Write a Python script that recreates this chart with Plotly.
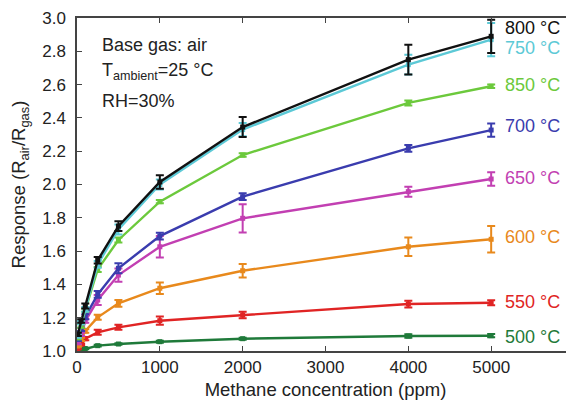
import plotly.graph_objects as go

conc_ppm = [10, 50, 100, 250, 500, 1000, 2000, 4000, 5000]

series_names = ["500 °C", "550 °C", "600 °C", "650 °C", "700 °C", "850 °C", "750 °C", "800 °C"]

resp_500 = [1.000, 1.005, 1.015, 1.032, 1.042, 1.056, 1.074, 1.090, 1.092]
resp_550 = [1.015, 1.04, 1.074, 1.112, 1.142, 1.182, 1.216, 1.282, 1.290]
resp_600 = [1.03, 1.07, 1.12, 1.202, 1.286, 1.377, 1.482, 1.626, 1.671]
resp_650 = [1.05, 1.10, 1.18, 1.306, 1.456, 1.626, 1.797, 1.957, 2.033]
resp_700 = [1.07, 1.13, 1.206, 1.34, 1.497, 1.690, 1.927, 2.217, 2.327]
resp_850 = [1.08, 1.15, 1.245, 1.49, 1.667, 1.897, 2.177, 2.490, 2.590]
resp_750 = [1.09, 1.17, 1.25, 1.52, 1.73, 2.000, 2.330, 2.720, 2.870]
resp_800 = [1.10, 1.18, 1.27, 1.545, 1.75, 2.015, 2.345, 2.750, 2.890]

err_500 = [0.003, 0.003, 0.005, 0.005, 0.005, 0.006, 0.006, 0.010, 0.010]
err_550 = [0.005, 0.005, 0.010, 0.015, 0.015, 0.025, 0.020, 0.020, 0.015]
err_600 = [0.005, 0.010, 0.010, 0.015, 0.020, 0.035, 0.040, 0.055, 0.080]
err_650 = [0.010, 0.010, 0.010, 0.030, 0.040, 0.065, 0.085, 0.030, 0.040]
err_700 = [0.010, 0.010, 0.015, 0.020, 0.030, 0.020, 0.020, 0.020, 0.040]
err_850 = [0.010, 0.010, 0.010, 0.015, 0.015, 0.010, 0.010, 0.015, 0.010]
err_750 = [0.010, 0.010, 0.015, 0.020, 0.030, 0.030, 0.040, 0.060, 0.100]
err_800 = [0.010, 0.010, 0.015, 0.020, 0.030, 0.040, 0.060, 0.090, 0.100]

colors = ["#1f7a3a", "#e02424", "#e8891c", "#c23fb2", "#3a3cae", "#6cc93c", "#5cc9d6", "#111111"]
label_y = [1.086, 1.296, 1.685, 2.04, 2.35, 2.598, 2.82, 2.94]

x_ticks = [0, 1000, 2000, 3000, 4000, 5000]
y_ticks = [1.0, 1.2, 1.4, 1.6, 1.8, 2.0, 2.2, 2.4, 2.6, 2.8, 3.0]

resps = [resp_500, resp_550, resp_600, resp_650, resp_700, resp_850, resp_750, resp_800]
errs = [err_500, err_550, err_600, err_650, err_700, err_850, err_750, err_800]

fig = go.Figure()
for name, r, e, c in zip(series_names, resps, errs, colors):
    fig.add_trace(go.Scatter(
        x=conc_ppm, y=r, name=name, mode="lines+markers",
        line=dict(color=c, width=2.4),
        marker=dict(color=c, size=5, symbol="square"),
        error_y=dict(type="data", array=e, visible=True, color=c, thickness=2, width=4),
        showlegend=False,
    ))

font = "Liberation Sans, Arial, sans-serif"
for name, ly, c in zip(series_names, label_y, colors):
    fig.add_annotation(x=5140, y=ly, text=name, showarrow=False, xanchor="left",
                       yanchor="middle", font=dict(family=font, size=18, color=c))

info = ["Base gas: air", "T<sub>ambient</sub>=25 °C", "RH=30%"]
info_y = [2.838, 2.676, 2.50]
for t, yy in zip(info, info_y):
    fig.add_annotation(x=280, y=yy, text=t, showarrow=False, xanchor="left",
                       yanchor="middle", font=dict(family=font, size=18, color="#222222"))

axis_common = dict(showgrid=False, zeroline=False, showline=True, linecolor="#444444",
                   linewidth=1.5, ticks="inside", ticklen=5, tickwidth=1.2,
                   tickcolor="#444444", mirror="ticks", automargin=False,
                   tickfont=dict(family=font, size=17, color="#222222"))

fig.update_xaxes(range=[0, 6000], tickvals=x_ticks,
                 title=dict(text="Methane concentration (ppm)", standoff=7,
                            font=dict(family=font, size=18.5, color="#222222")),
                 **axis_common)
fig.update_yaxes(range=[1.0, 3.0], tickvals=y_ticks, tickformat=".1f",
                 ticklabelstandoff=6,
                 title=dict(text="Response (R<sub>air</sub>/R<sub>gas</sub>)", standoff=12,
                            font=dict(family=font, size=18.5, color="#222222")),
                 **axis_common)

fig.update_layout(width=566, height=393, margin=dict(l=69, r=0, t=10, b=50),
                  paper_bgcolor="white", plot_bgcolor="white")

fig.write_html("out.html")
